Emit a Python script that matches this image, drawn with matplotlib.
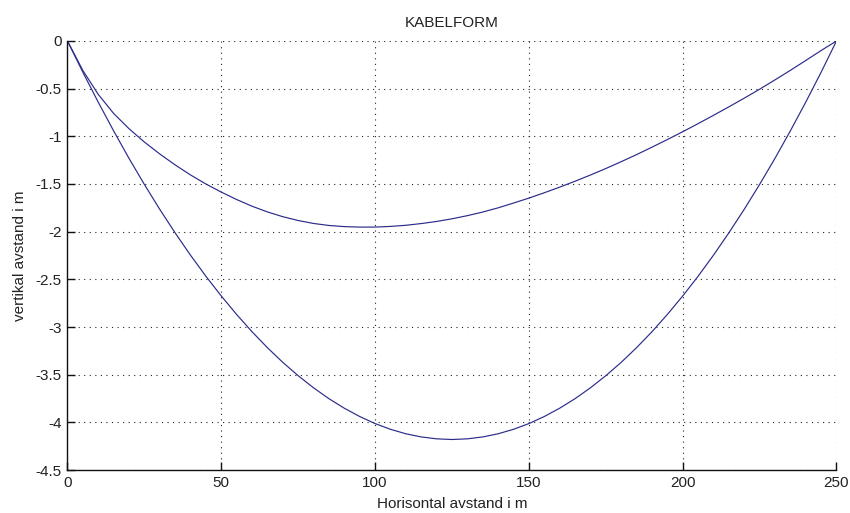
import numpy as np
import matplotlib
matplotlib.use("Agg")
import matplotlib.pyplot as plt

# Horizontal positions (m), every 5 m
x_m = [0, 5, 10, 15, 20, 25, 30, 35, 40, 45, 50, 55, 60, 65, 70, 75, 80, 85,
       90, 95, 100, 105, 110, 115, 120, 125, 130, 135, 140, 145, 150, 155,
       160, 165, 170, 175, 180, 185, 190, 195, 200, 205, 210, 215, 220, 225,
       230, 235, 240, 245, 250]

# Upper cable
upper = [0, -0.31, -0.56, -0.76, -0.92, -1.06, -1.185, -1.30, -1.405, -1.50,
         -1.585, -1.663, -1.733, -1.793, -1.843, -1.883, -1.914, -1.935,
         -1.947, -1.952, -1.952, -1.945, -1.933, -1.915, -1.893, -1.865,
         -1.832, -1.794, -1.750, -1.70, -1.648, -1.592, -1.533, -1.471,
         -1.406, -1.338, -1.266, -1.192, -1.114, -1.034, -0.952, -0.867,
         -0.780, -0.691, -0.60, -0.506, -0.408, -0.308, -0.205, -0.10, 0]

# Lower cable
lower = [0, -0.328, -0.642, -0.943, -1.231, -1.505, -1.766, -2.013, -2.247,
         -2.468, -2.675, -2.869, -3.050, -3.217, -3.371, -3.511, -3.638,
         -3.752, -3.852, -3.939, -4.013, -4.073, -4.120, -4.153, -4.173,
         -4.180, -4.173, -4.153, -4.120, -4.073, -4.013, -3.939, -3.852,
         -3.752, -3.638, -3.511, -3.371, -3.217, -3.050, -2.869, -2.675,
         -2.468, -2.247, -2.013, -1.766, -1.505, -1.231, -0.943, -0.642,
         -0.328, 0]

x_ticks = [0, 50, 100, 150, 200, 250]
y_ticks = [0, -0.5, -1, -1.5, -2, -2.5, -3, -3.5, -4, -4.5]
y_labels = ['0', '-0.5', '-1', '-1.5', '-2', '-2.5', '-3', '-3.5', '-4', '-4.5']

plt.rcParams['font.family'] = ['Liberation Sans', 'DejaVu Sans']
plt.rcParams['font.size'] = 11

line_col = '#2b2b8a'
text_col = '#222222'

fig = plt.figure(figsize=(8.5, 5.13), dpi=100)
ax = fig.add_axes([0.0794, 0.0838, 0.9047, 0.8363])

ax.plot(x_m, upper, color=line_col, lw=0.85)
ax.plot(x_m, lower, color=line_col, lw=0.85)

ax.set_xlim(0, 250)
ax.set_ylim(-4.5, 0)
ax.set_xticks(x_ticks)
ax.set_xticklabels([str(v) for v in x_ticks])
ax.set_yticks(y_ticks)
ax.set_yticklabels(y_labels)

# MATLAB-like look: box off, inward ticks, dotted grid
ax.spines['top'].set_visible(False)
ax.spines['right'].set_visible(False)
for s in ('left', 'bottom'):
    ax.spines[s].set_linewidth(1.0)
    ax.spines[s].set_color('#111111')
ax.tick_params(direction='in', length=5.5, width=1.0, colors='#111111',
               labelcolor=text_col, labelsize=11, pad=4)
ax.grid(True, color='#222222', linestyle=(0, (1, 4)), linewidth=0.8)
ax.set_axisbelow(True)

ax.set_title('KABELFORM', fontsize=11, color=text_col, pad=10)
ax.set_xlabel('Horisontal avstand i m', fontsize=11, color=text_col, labelpad=5)
ax.set_ylabel('vertikal avstand i m', fontsize=11, color=text_col, labelpad=6)

fig.savefig('out.png', dpi=100)
